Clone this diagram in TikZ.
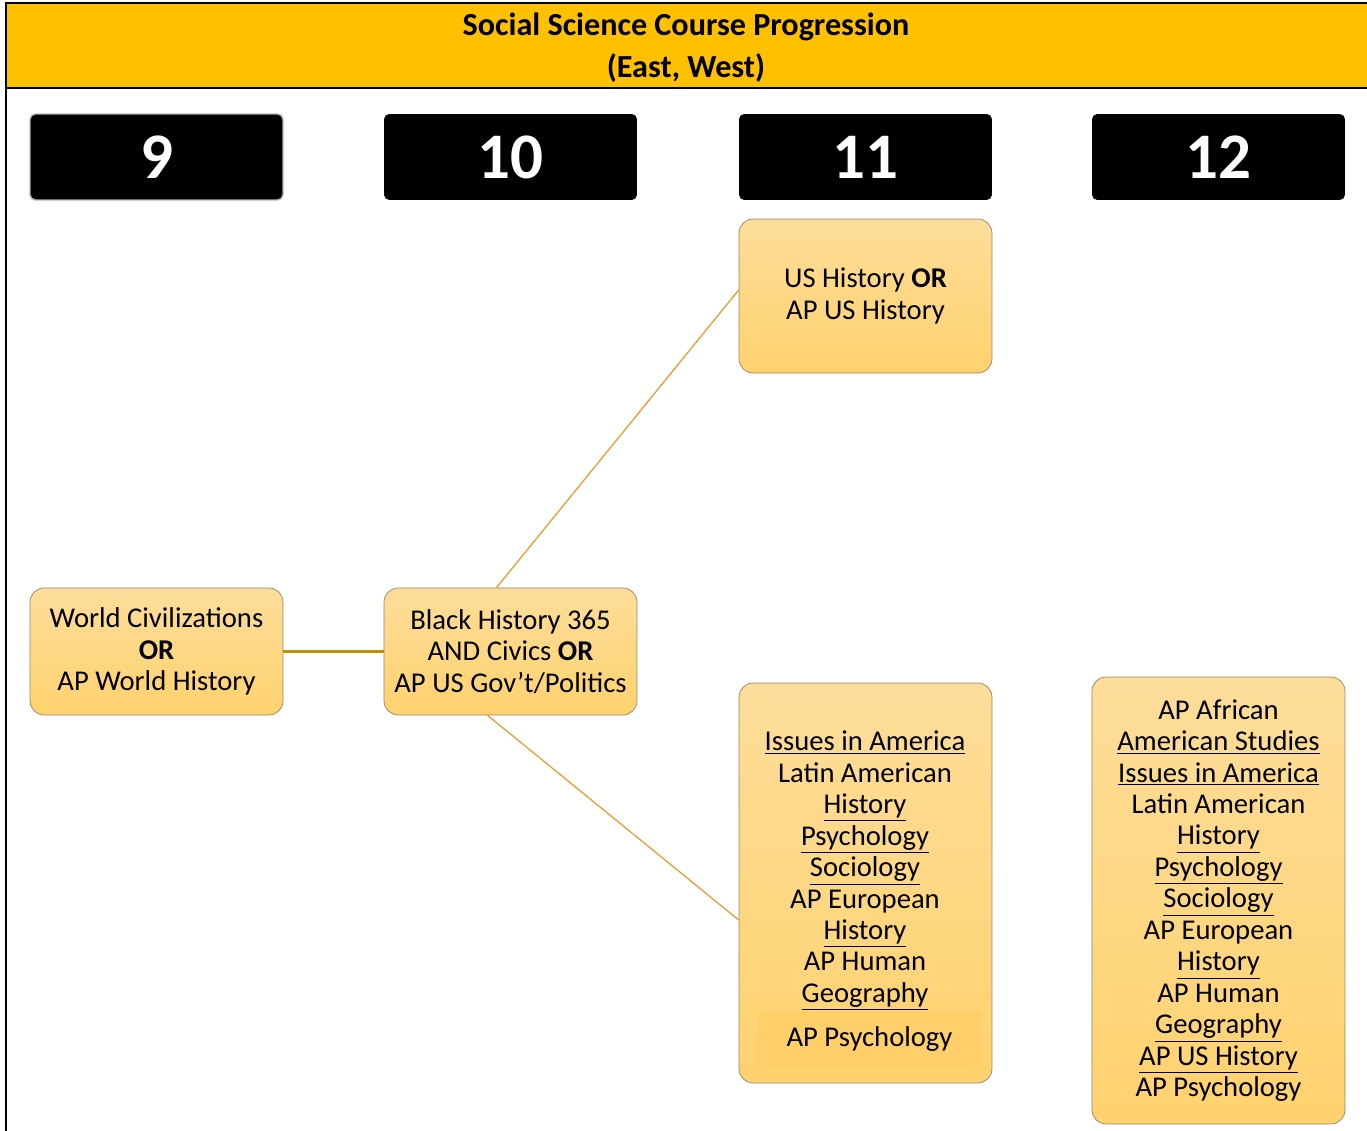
\documentclass[tikz,border=0pt]{standalone}
\usepackage{fontspec}
\setmainfont{Carlito}
\usetikzlibrary{calc}
\definecolor{headyellow}{RGB}{255,192,0}
\definecolor{boxtop}{RGB}{253,221,154}
\definecolor{boxbottom}{RGB}{255,210,110}
\definecolor{boxline}{RGB}{150,132,96}
\definecolor{linkgold}{RGB}{191,144,0}
\definecolor{linkorange}{RGB}{240,150,40}
\definecolor{psyfill}{RGB}{255,208,105}
\begin{document}
\begin{tikzpicture}[x=0.02cm,y=-0.02cm,
    grade/.style={fill=black,rounded corners=3pt,minimum width=5.06cm,minimum height=1.72cm,
      inner sep=0pt,text=white,font=\fontsize{37}{40}\selectfont\bfseries},
    course/.style={draw=boxline,top color=boxtop,bottom color=boxbottom,rounded corners=8pt,
      minimum width=5.06cm,inner sep=0pt,align=center,font=\fontsize{16.3}{17.9}\selectfont},
    listtext/.style={inner sep=0pt,align=center,font=\fontsize{16.3}{17.9}\selectfont},
    psybox/.style={fill=psyfill,minimum width=4.46cm,minimum height=1.14cm,inner sep=0pt,
      font=\fontsize{16.3}{17.9}\selectfont},
    title/.style={inner sep=0pt,align=center,font=\fontsize{18.3}{23.9}\selectfont\bfseries},
    link/.style={linkorange,line width=0.7pt}]
  \useasboundingbox (0,0) rectangle (1367,1131);
  \fill[headyellow] (6,3) rectangle (1367,88);
  \draw[line width=1.2pt] (1367,3) -- (6,3) -- (6,1131);
  \draw[line width=1.2pt] (6,88) -- (1367,88);
  \node[title] (head) at (686,48) {Social Science Course Progression\\(East, West)};

  \node[grade,draw=gray!60,line width=0.8pt] (g9) at (156.5,157) {9};
  \node[grade] (g10) at (510.5,157) {10};
  \node[grade] (g11) at (865.5,157) {11};
  \node[grade] (g12) at (1218.5,157) {12};

  \node[course,minimum height=2.54cm] (wc) at (156.5,651.5) {World Civilizations\\\textbf{OR}\\AP World History};
  \node[course,minimum height=2.54cm] (bh) at (510.5,651.5) {Black History 365\\AND Civics \textbf{OR}\\AP US Gov’t/Politics};
  \node[course,minimum height=3.08cm] (us) at (865.5,296) {US History \textbf{OR}\\AP US History};
  \node[course,minimum height=8cm] (el11) at (865.5,883) {};
  \node[listtext] (el11list) at (865,871) {\underline{Issues in America}\\Latin American\\\underline{History}\\
    \underline{Psychology}\\\underline{Sociology}\\AP European\\\underline{History}\\AP Human\\\underline{Geography}};
  \node[psybox] (psy) at (869.5,1039.5) {AP Psychology};
  \node[course,minimum height=8.94cm] (el12) at (1218.5,900.5) {AP African\\\underline{American Studies}\\
    \underline{Issues in America}\\Latin American\\\underline{History}\\\underline{Psychology}\\
    \underline{Sociology}\\AP European\\\underline{History}\\AP Human\\\underline{Geography}\\
    \underline{AP US History}\\AP Psychology};

  \draw[linkgold,line width=1.4pt] (wc.east) -- (bh.west);
  \draw[link] ($(bh.north)+(-14,0)$) -- ($(us.west)+(0,-6)$);
  \draw[link] ($(bh.south)+(-23,0)$) -- ($(el11.west)+(0,37)$);
\end{tikzpicture}
\end{document}
